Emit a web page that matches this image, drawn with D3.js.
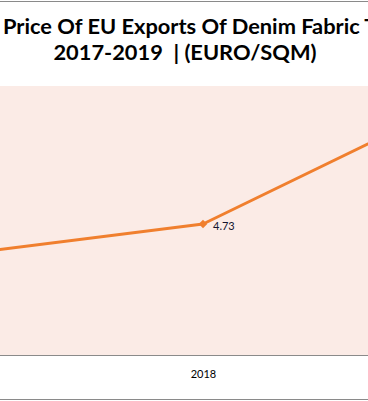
<!DOCTYPE html>
<html>
<head>
<meta charset="utf-8">
<script src="https://cdn.jsdelivr.net/npm/d3@7"></script>
<style>
  html, body { margin: 0; padding: 0; background: #ffffff; overflow: hidden; }
  svg { display: block; }
  .title { font-family: Lato, "Open Sans", sans-serif; font-weight: 700; fill: #000; white-space: pre; }
</style>
</head>
<body>
<svg id="chart" width="368" height="401"></svg>
<script>
const titleLine1 = "Price Of EU Exports Of Denim Fabric T";
const titleLine1Fit = "Price Of EU Exports Of Denim Fabric";
const titleLine2 = "2017-2019  | (EURO/SQM)";
const years = ["2017", "2018", "2019"];
const prices = [4.31, 4.73, 6.35];
const priceLabels = ["4.31", "4.73", "6.35"];

const W = 368, H = 401;
const svg = d3.select("#chart");

// frame lines
svg.append("line").attr("x1", 0).attr("x2", W).attr("y1", 1.5).attr("y2", 1.5)
  .attr("stroke", "#8a8a8a").attr("stroke-width", 1);
svg.append("line").attr("x1", 0).attr("x2", W).attr("y1", 399.5).attr("y2", 399.5)
  .attr("stroke", "#8a8a8a").attr("stroke-width", 1);

// plot area
const plotTop = 86, plotBottom = 355;
svg.append("rect").attr("x", 0).attr("y", plotTop).attr("width", W).attr("height", plotBottom - plotTop)
  .attr("fill", "#FBEBE6");

const x = d3.scalePoint().domain(years).range([203 - 260, 203 + 260]);
const y = d3.scaleLinear().domain([3.05, 6.5]).range([plotBottom, plotTop]);

// category axis
const axis = d3.axisBottom(x).tickSize(0).tickPadding(15);
const gx = svg.append("g").attr("transform", `translate(0,${plotBottom})`).call(axis);
gx.select(".domain").remove();
gx.selectAll("text").attr("font-family", "Lato, 'Open Sans', sans-serif").attr("font-size", 11).attr("fill", "#000");
svg.append("line").attr("x1", 0).attr("x2", W).attr("y1", plotBottom + 0.5).attr("y2", plotBottom + 0.5)
  .attr("stroke", "#8a8a8a").attr("stroke-width", 1);

// line
const data = years.map((yr, i) => ({ yr, v: prices[i], label: priceLabels[i] }));
svg.append("path").datum(data)
  .attr("d", d3.line().x(d => x(d.yr)).y(d => y(d.v)))
  .attr("fill", "none").attr("stroke", "#F07F2E").attr("stroke-width", 3).attr("stroke-linejoin", "round");

svg.selectAll(".mk").data(data).enter().append("path")
  .attr("class", "mk")
  .attr("d", d3.symbol(d3.symbolSquare, 36)())
  .attr("transform", d => `translate(${x(d.yr)},${y(d.v)}) rotate(45)`)
  .attr("fill", "#F07F2E");

svg.selectAll(".lbl").data(data).enter().append("text")
  .attr("class", "lbl")
  .attr("x", d => x(d.yr) + 10).attr("y", d => y(d.v) + 6)
  .attr("font-family", "Lato, 'Open Sans', sans-serif").attr("font-size", 11)
  .attr("fill", "#14142e")
  .text(d => d.label);

// title, sized so line 1 spans the same width as the reference
const probe = svg.append("text").attr("class", "title").attr("font-size", 20).text(titleLine1Fit);
const w20 = probe.node().getComputedTextLength();
probe.remove();
const fs = 20 * 357 / w20;
svg.append("text").attr("class", "title").attr("font-size", fs)
  .attr("x", 3).attr("y", 34).text(titleLine1);
svg.append("text").attr("class", "title").attr("font-size", fs)
  .attr("x", 185).attr("y", 60).attr("text-anchor", "middle").text(titleLine2);
</script>
</body>
</html>
